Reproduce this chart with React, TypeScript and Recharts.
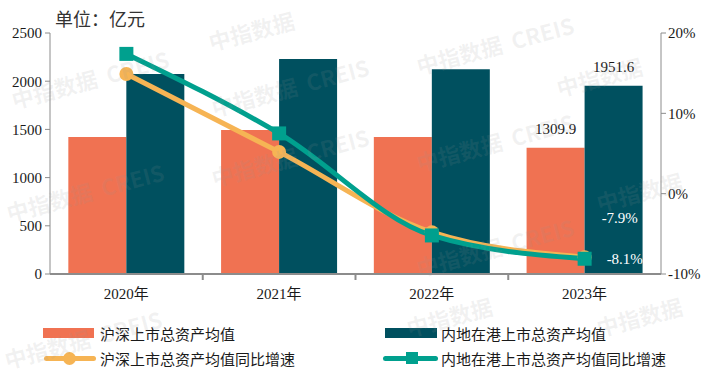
import { Bar, ComposedChart, LabelList, Line, XAxis, YAxis } from "recharts";

const years = ["2020年", "2021年", "2022年", "2023年"];
const hsAvg = [1421, 1494, 1422, 1309.9];
const hkAvg = [2075, 2230, 2124, 1951.6];
const hsGrowth = [14.9, 5.2, -4.8, -7.9];
const hkGrowth = [17.4, 7.5, -5.2, -8.1];
const leftTicks = [0, 500, 1000, 1500, 2000, 2500];
const rightTicks = [-10, 0, 10, 20];

const ORANGE_BAR = "#F07252";
const TEAL_BAR = "#00505F";
const ORANGE_LINE = "#F6B454";
const TEAL_LINE = "#00A08E";
const AXIS = "#8c8c8c";

const last = years.length - 1;
const data = years.map((year, i) => ({
  year,
  hsAvg: hsAvg[i],
  hkAvg: hkAvg[i],
  hsGrowth: hsGrowth[i],
  hkGrowth: hkGrowth[i],
  hsAvgLabel: i === last ? hsAvg[i] : null,
  hkAvgLabel: i === last ? hkAvg[i] : null,
  hsGrowthLabel: i === last ? hsGrowth[i] : null,
  hkGrowthLabel: i === last ? hkGrowth[i] : null,
}));

const serif = "'Liberation Serif', 'Times New Roman', 'Noto Sans CJK SC', serif";
const cjk = "'Noto Sans CJK SC', sans-serif";
const tickStyle = { fontSize: 15, fill: "#1a1a1a", fontFamily: serif };

// category label plus a small tick at each band boundary
const yearTick = (props: any) => {
  const { x, y, payload, index } = props;
  const half = payload?.offset || 76.4;
  return (
    <g>
      {index > 0 && <line x1={x - half} x2={x - half} y1={y} y2={y + 6} stroke={AXIS} strokeWidth={2} />}
      <text x={x} y={y + 25} textAnchor="middle" fontSize={15} fontFamily={serif} fill="#1a1a1a">
        {payload.value}
      </text>
    </g>
  );
};

const barLabel = (props: any) => {
  const { x, y, width, value } = props;
  if (value == null) return null;
  return (
    <text x={x + width / 2} y={y - 14} textAnchor="middle" fontSize={15} fontFamily={serif} fill="#1a1a1a">
      {Number(value).toFixed(1)}
    </text>
  );
};

const growthLabel = (dx: number, dy: number) => (props: any) => {
  const { x, y, value } = props;
  if (value == null) return null;
  return (
    <text x={x + dx} y={y + dy} textAnchor="start" dominantBaseline="middle" fontSize={15} fontFamily={serif} fill="#ffffff">
      {`${Number(value).toFixed(1)}%`}
    </text>
  );
};

const squareDot = (props: any) => {
  const { cx, cy, index } = props;
  return <rect key={`sq-${index}`} x={cx - 7} y={cy - 7} width={14} height={14} fill={TEAL_LINE} />;
};

const watermarks = [
  { x: 212, y: 54, text: "中指数据" },
  { x: 15, y: 112, text: "中指数据  CREIS" },
  { x: 215, y: 120, text: "中指数据  CREIS" },
  { x: 420, y: 78, text: "中指数据  CREIS" },
  { x: 10, y: 225, text: "中指数据  CREIS" },
  { x: 215, y: 190, text: "中指数据  CREIS" },
  { x: 420, y: 175, text: "中指数据  CREIS" },
  { x: 600, y: 215, text: "中指数据" },
  { x: 560, y: 100, text: "中指数据" },
  { x: 420, y: 280, text: "中指数据  CREIS" },
  { x: 8, y: 372, text: "中指数据  CREIS" },
  { x: 410, y: 340, text: "中指数据" },
  { x: 600, y: 340, text: "中指数据" },
];

function LegendRow() {
  const item = (left: number, top: number, swatch: React.ReactNode, label: string) => (
    <div style={{ position: "absolute", left, top, display: "flex", alignItems: "center", height: 20 }}>
      <div style={{ width: 54, height: 20, position: "relative", marginRight: 3 }}>{swatch}</div>
      <span style={{ fontFamily: cjk, fontSize: 15, color: "#1a1a1a", whiteSpace: "nowrap" }}>{label}</span>
    </div>
  );
  return (
    <>
      {item(43, 323, <div style={{ position: "absolute", left: 0, top: 5, width: 51, height: 10, background: ORANGE_BAR }} />, "沪深上市总资产均值")}
      {item(384, 323, <div style={{ position: "absolute", left: 1, top: 5, width: 52, height: 10, background: TEAL_BAR }} />, "内地在港上市总资产均值")}
      {item(
        43,
        348,
        <>
          <div style={{ position: "absolute", left: 1, top: 8, width: 52, height: 5, borderRadius: 3, background: ORANGE_LINE }} />
          <div style={{ position: "absolute", left: 20, top: 4, width: 13, height: 13, borderRadius: 7, background: ORANGE_LINE }} />
        </>,
        "沪深上市总资产均值同比增速",
      )}
      {item(
        384,
        348,
        <>
          <div style={{ position: "absolute", left: -1, top: 8, width: 55, height: 5, borderRadius: 3, background: TEAL_LINE }} />
          <div style={{ position: "absolute", left: 22, top: 4, width: 12, height: 12, background: TEAL_LINE }} />
        </>,
        "内地在港上市总资产均值同比增速",
      )}
    </>
  );
}

export default function App() {
  return (
    <div style={{ position: "absolute", left: 0, top: 0, width: 711, height: 382, background: "#fff", overflow: "hidden" }}>
      <div style={{ position: "absolute", left: 55, top: 5, fontFamily: cjk, fontSize: 18, color: "#333" }}>单位：亿元</div>
      <ComposedChart
        width={711}
        height={382}
        data={data}
        margin={{ top: 33, right: 0, left: 10, bottom: 78 }}
        barCategoryGap="12%"
        barGap={0}
      >
        <XAxis
          dataKey="year"
          height={30}
          tick={yearTick}
          tickLine={false}
          tickSize={0}
          tickMargin={0}
          axisLine={{ stroke: AXIS, strokeWidth: 2 }}
        />
        <YAxis
          yAxisId="left"
          domain={[0, 2500]}
          ticks={leftTicks}
          width={40}
          tick={tickStyle}
          axisLine={{ stroke: AXIS }}
          tickLine={{ stroke: AXIS }}
          tickSize={5}
          tickMargin={3}
        />
        <YAxis
          yAxisId="right"
          orientation="right"
          domain={[-10, 20]}
          ticks={rightTicks}
          width={50}
          tick={tickStyle}
          tickFormatter={(v) => `${v}%`}
          axisLine={{ stroke: AXIS }}
          tickLine={{ stroke: AXIS }}
          tickSize={5}
          tickMargin={2}
        />
        <Bar yAxisId="left" dataKey="hsAvg" fill={ORANGE_BAR} isAnimationActive={false}>
          <LabelList dataKey="hsAvgLabel" content={barLabel} />
        </Bar>
        <Bar yAxisId="left" dataKey="hkAvg" fill={TEAL_BAR} isAnimationActive={false}>
          <LabelList dataKey="hkAvgLabel" content={barLabel} />
        </Bar>
        <Line
          yAxisId="right"
          type="monotone"
          dataKey="hsGrowth"
          stroke={ORANGE_LINE}
          strokeWidth={5}
          dot={{ r: 7, fill: ORANGE_LINE, stroke: "none" }}
          isAnimationActive={false}
        >
          <LabelList dataKey="hsGrowthLabel" content={growthLabel(17, -38)} />
        </Line>
        <Line
          yAxisId="right"
          type="monotone"
          dataKey="hkGrowth"
          stroke={TEAL_LINE}
          strokeWidth={5}
          dot={squareDot}
          isAnimationActive={false}
        >
          <LabelList dataKey="hkGrowthLabel" content={growthLabel(22, 2)} />
        </Line>
      </ComposedChart>
      <LegendRow />
      {watermarks.map((w, i) => (
        <div
          key={i}
          style={{
            position: "absolute",
            left: w.x,
            top: w.y,
            transform: "rotate(-15deg)",
            transformOrigin: "left bottom",
            fontFamily: cjk,
            fontWeight: 700,
            fontSize: 22,
            lineHeight: "26px",
            marginTop: -26,
            color: "rgba(150,150,150,0.13)",
            whiteSpace: "pre",
            pointerEvents: "none",
          }}
        >
          {w.text}
        </div>
      ))}
    </div>
  );
}
